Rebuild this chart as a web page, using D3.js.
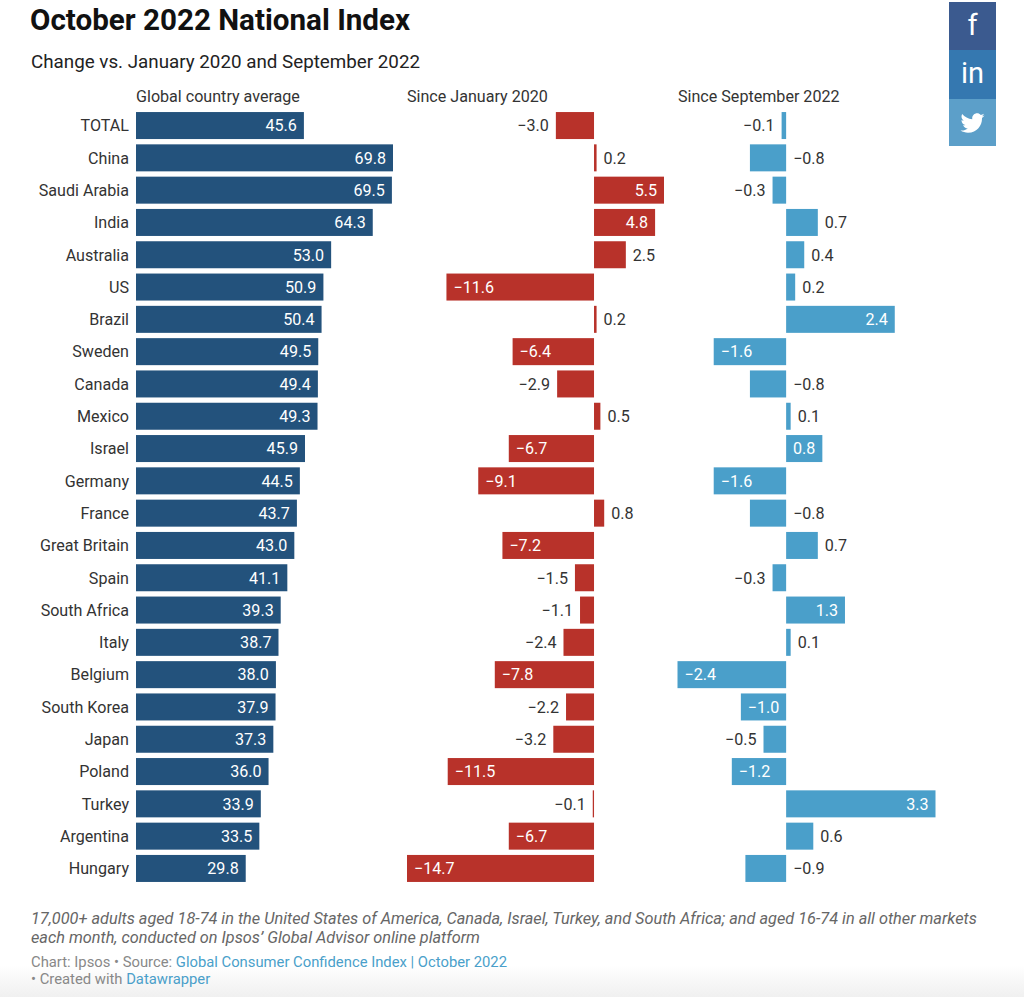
<!DOCTYPE html>
<html><head><meta charset="utf-8">
<script src="https://cdn.jsdelivr.net/npm/d3@7"></script>
<style>html,body{margin:0;padding:0;background:#fff}svg{display:block}text{font-family:Roboto,sans-serif}</style>
</head><body><div id="c"></div>
<script>
const countries = ["TOTAL","China","Saudi Arabia","India","Australia","US","Brazil","Sweden","Canada","Mexico","Israel","Germany","France","Great Britain","Spain","South Africa","Italy","Belgium","South Korea","Japan","Poland","Turkey","Argentina","Hungary"];
const globalAvg = [45.6,69.8,69.5,64.3,53.0,50.9,50.4,49.5,49.4,49.3,45.9,44.5,43.7,43.0,41.1,39.3,38.7,38.0,37.9,37.3,36.0,33.9,33.5,29.8];
const sinceJan2020 = [-3.0,0.2,5.5,4.8,2.5,-11.6,0.2,-6.4,-2.9,0.5,-6.7,-9.1,0.8,-7.2,-1.5,-1.1,-2.4,-7.8,-2.2,-3.2,-11.5,-0.1,-6.7,-14.7];
const sinceSep2022 = [-0.1,-0.8,-0.3,0.7,0.4,0.2,2.4,-1.6,-0.8,0.1,0.8,-1.6,-0.8,0.7,-0.3,1.3,0.1,-2.4,-1.0,-0.5,-1.2,3.3,0.6,-0.9];
const columnTitles = ["Global country average","Since January 2020","Since September 2022"];
const title = "October 2022 National Index";
const subtitle = "Change vs. January 2020 and September 2022";

const W = 1024, H = 997;
const svg = d3.select("#c").append("svg").attr("width",W).attr("height",H);
const grad = svg.append("defs").append("linearGradient").attr("id","fade").attr("x1",0).attr("x2",0).attr("y1",0).attr("y2",1);
grad.append("stop").attr("offset","0").attr("stop-color","#fff");
grad.append("stop").attr("offset","1").attr("stop-color","#f0f0f0");
svg.append("rect").attr("x",0).attr("y",965).attr("width",W).attr("height",32).attr("fill","url(#fade)");

const TXT = "#333", PAD = 7, FS = 16.1;
const y = d3.scaleBand().domain(countries).range([109.4,884.6]).paddingInner(0.164).paddingOuter(0.082);

svg.append("text").attr("x",30).attr("y",30).attr("font-size",29.6).attr("font-weight",700).attr("fill","#111").text(title);
svg.append("text").attr("x",31).attr("y",68).attr("font-size",18.8).attr("fill","#222").text(subtitle);

svg.append("g").selectAll("text").data(countries).join("text")
  .attr("x",129).attr("y",d=>y(d)+y.bandwidth()/2).attr("dy","0.36em")
  .attr("text-anchor","end").attr("font-size",FS).attr("fill",TXT).text(d=>d);

const fmt = v => (v<0?"\u2212":"")+Math.abs(v).toFixed(1);

function column(values, x, color, headX, flipLimit){
  svg.append("text").attr("x",headX).attr("y",101.5).attr("font-size",FS).attr("fill",TXT)
     .text(columnTitles[[globalAvg,sinceJan2020,sinceSep2022].indexOf(values)]);
  const g = svg.append("g");
  const rows = countries.map((c,i)=>({c,v:values[i]}));
  g.selectAll("rect").data(rows).join("rect")
    .attr("x",d=>Math.min(x(0),x(d.v))).attr("width",d=>Math.abs(x(d.v)-x(0)))
    .attr("y",d=>y(d.c)).attr("height",y.bandwidth()).attr("fill",color);
  g.selectAll("text").data(rows).join("text")
    .attr("y",d=>y(d.c)+y.bandwidth()/2).attr("dy","0.36em")
    .attr("font-size",FS).text(d=>fmt(d.v))
    .each(function(d){
      const t = d3.select(this), len = this.getComputedTextLength();
      const w = Math.abs(x(d.v)-x(0));
      if (len + 13 <= w){
        t.attr("fill","#fff");
        if (d.v>=0) t.attr("x",x(d.v)-PAD).attr("text-anchor","end");
        else t.attr("x",x(d.v)+PAD).attr("text-anchor","start");
      } else {
        t.attr("fill",TXT);
        if (d.v>=0) t.attr("x",x(d.v)+PAD).attr("text-anchor","start");
        else if (x(d.v)-PAD-len < flipLimit) t.attr("x",x(0)+PAD).attr("text-anchor","start");
        else t.attr("x",x(d.v)-PAD).attr("text-anchor","end");
      }
    });
}
const x1 = d3.scaleLinear().domain([0,69.8]).range([136,393]);
const x2 = d3.scaleLinear().domain([-14.7,5.5]).range([407,664]);
const x3 = d3.scaleLinear().domain([-2.4,3.3]).range([677.5,935.5]);
column(globalAvg,x1,"#23527c",136,0);
column(sinceJan2020,x2,"#b8322a",407,0);
column(sinceSep2022,x3,"#4a9fca",678,720);

// footer
svg.append("text").attr("x",31).attr("y",924).attr("font-size",16.3).attr("font-style","italic").attr("fill","#666")
  .text("17,000+ adults aged 18-74 in the United States of America, Canada, Israel, Turkey, and South Africa; and aged 16-74 in all other markets");
svg.append("text").attr("x",31).attr("y",943).attr("font-size",16.3).attr("font-style","italic").attr("fill","#666")
  .text("each month, conducted on Ipsos\u2019 Global Advisor online platform");
const f1 = svg.append("text").attr("x",31).attr("y",967).attr("font-size",14.8).attr("fill","#888");
f1.append("tspan").text("Chart: Ipsos \u2022 Source: ");
f1.append("tspan").attr("fill","#4a9fca").text("Global Consumer Confidence Index | October 2022");
const f2 = svg.append("text").attr("x",31).attr("y",984).attr("font-size",14.8).attr("fill","#888");
f2.append("tspan").text("\u2022 Created with ");
f2.append("tspan").attr("fill","#4a9fca").text("Datawrapper");

// social buttons
const social = svg.append("g");
social.append("rect").attr("x",949).attr("y",2).attr("width",47).attr("height",48).attr("fill","#3b5a8f");
social.append("rect").attr("x",949).attr("y",50).attr("width",47).attr("height",49).attr("fill","#3578b0");
social.append("rect").attr("x",949).attr("y",99).attr("width",47).attr("height",47).attr("fill","#5c9fc9");
social.append("text").attr("x",972.5).attr("y",35).attr("text-anchor","middle").attr("font-size",29).attr("font-weight",400).attr("fill","#fff").text("f");
social.append("text").attr("x",972.5).attr("y",83).attr("text-anchor","middle").attr("font-size",29).attr("font-weight",400).attr("fill","#fff").text("in");
social.append("path").attr("transform","translate(960.5,111) scale(1)").attr("fill","#fff")
  .attr("d","M24 4.6c-.9.4-1.8.7-2.8.8 1-.6 1.8-1.6 2.2-2.7-1 .6-2 1-3.1 1.2C19.3 2.8 18 2.2 16.6 2.2c-2.7 0-4.9 2.2-4.9 4.9 0 .4 0 .8.1 1.1C7.7 8 4.1 6.1 1.7 3.1c-.4.7-.7 1.6-.7 2.5 0 1.7.9 3.2 2.2 4.1-.8 0-1.6-.2-2.2-.6v.1c0 2.4 1.7 4.4 3.9 4.8-.4.1-.8.2-1.3.2-.3 0-.6 0-.9-.1.6 2 2.4 3.4 4.6 3.4-1.7 1.3-3.8 2.1-6.1 2.1-.4 0-.8 0-1.2-.1 2.2 1.4 4.8 2.2 7.5 2.2 9.1 0 14-7.5 14-14v-.6c1-.7 1.8-1.6 2.5-2.5z");
</script></body></html>
